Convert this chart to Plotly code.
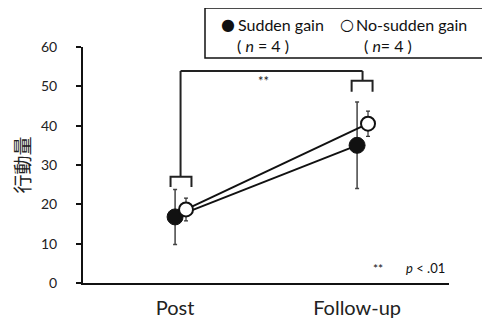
import plotly.graph_objects as go

categories = ["Post", "Follow-up"]
cat_pos = [0, 1]
sudden_mean = [16.8, 35.0]
sudden_err = [7.0, 11.0]
nosudden_mean = [18.7, 40.5]
nosudden_err = [2.9, 3.2]
offset = 0.03

FONT = "Lato, 'Open Sans', sans-serif"

fig = go.Figure()
fig.add_trace(go.Scatter(
    x=[p - offset for p in cat_pos], y=sudden_mean, mode="lines+markers",
    line=dict(color="#111", width=2),
    marker=dict(size=16, color="#111", line=dict(color="#111", width=1)),
    error_y=dict(type="data", array=sudden_err, color="#444", thickness=1.5, width=2),
    showlegend=False, cliponaxis=False))
fig.add_trace(go.Scatter(
    x=[p + offset for p in cat_pos], y=nosudden_mean, mode="lines+markers",
    line=dict(color="#111", width=2),
    marker=dict(size=14, color="white", line=dict(color="#111", width=2)),
    error_y=dict(type="data", array=nosudden_err, color="#333", thickness=1.2, width=2),
    showlegend=False, cliponaxis=False))

lc = dict(color="#222", width=2)
shapes = [
    dict(type="line", x0=0, x1=0, y0=27.0, y1=53.9, line=lc),
    dict(type="line", x0=0, x1=1, y0=53.9, y1=53.9, line=lc),
    dict(type="line", x0=1, x1=1, y0=53.9, y1=51.4, line=lc),
    dict(type="path", path="M -0.055,24.4 L -0.055,27.0 L 0.06,27.0 L 0.06,24.4", line=lc),
    dict(type="path", path="M 0.94,48.6 L 0.94,51.4 L 1.055,51.4 L 1.055,48.6", line=lc),
    dict(type="rect", xref="paper", yref="paper", x0=(205-83)/366, x1=(487-83)/366,
         y0=(283-58)/236, y1=(283-8)/236, line=dict(color="#111", width=1.5), fillcolor="white"),
]

def px(xp):
    return (xp - 83) / 366

def py(yp):
    return (283 - yp) / 236

def ann(x, y, text, size, xanchor="center", family=FONT):
    return dict(xref="paper", yref="paper", x=px(x), y=py(y), text=text, showarrow=False,
                xanchor=xanchor, yanchor="middle", font=dict(size=size, family=family, color="#111"))

annotations = [
    dict(x=0.453, y=51.4, text="**", showarrow=False, xanchor="center", yanchor="middle",
         font=dict(size=13, family=FONT, color="#222")),
    ann(378, 268, "**", 12),
    ann(404, 268, "<i>p</i> < .01", 13, "left"),
    ann(228, 24, "●", 16, family="DejaVu Sans"),
    ann(236, 24, "Sudden gain", 16, "left"),
    ann(235, 45, "( <i>n</i> = 4 )", 16, "left"),
    ann(347, 24, "○", 16, family="DejaVu Sans"),
    ann(354, 24, "No-sudden gain", 16, "left"),
    ann(362, 45, "( <i>n</i>= 4 )", 16, "left"),
]

fig.update_layout(
    width=490, height=328,
    margin=dict(l=75, r=49, t=39, b=53, autoexpand=False),
    paper_bgcolor="white", plot_bgcolor="white",
    shapes=shapes, annotations=annotations,
    font=dict(family=FONT, color="#222"),
    xaxis=dict(range=[-0.536, 1.475], tickvals=[p - offset for p in cat_pos], ticktext=categories,
               automargin=False,
               showgrid=False, zeroline=False, showline=True, linecolor="#111", linewidth=2,
               ticks="", tickfont=dict(size=20, family=FONT, color="#222"), ticklabelstandoff=6),
    yaxis=dict(range=[0, 60], tickvals=[0, 10, 20, 30, 40, 50, 60], automargin=False,
               showgrid=False, zeroline=False, showline=True, linecolor="#111", linewidth=2,
               ticks="outside", ticklen=5, tickcolor="#111", tickwidth=1.5,
               tickfont=dict(size=14, family=FONT, color="#222"), ticklabelstandoff=16,
               title=dict(text="行動量", font=dict(size=19, family="Noto Sans CJK JP", color="#222"),
                          standoff=8)),
)

fig.write_html("out.html")
